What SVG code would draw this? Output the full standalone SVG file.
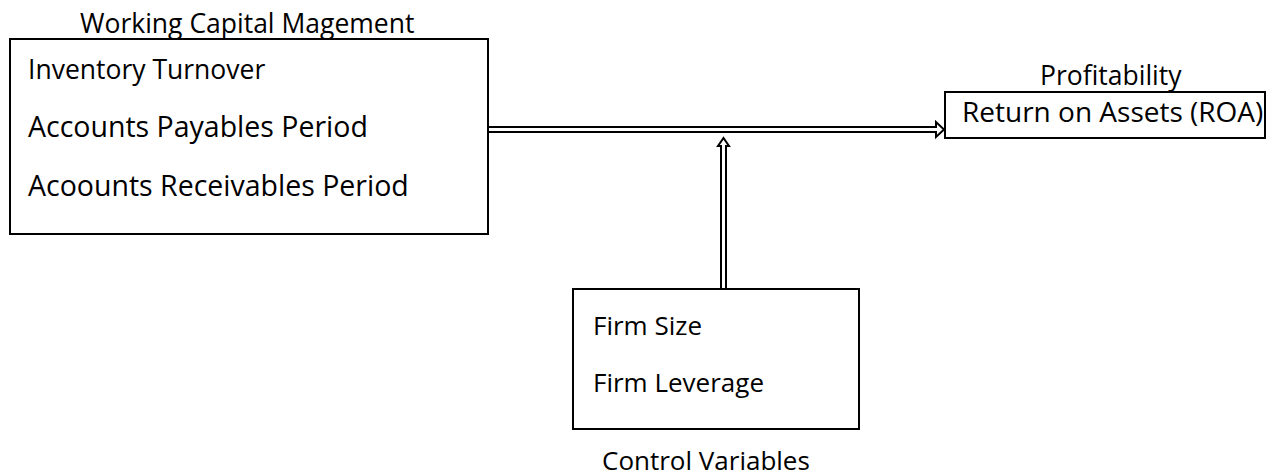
<svg xmlns="http://www.w3.org/2000/svg" width="1277" height="476" viewBox="0 0 1277 476">
  <style>
    .box { fill: #ffffff; stroke: #000000; stroke-width: 2; }
    .arrow { fill: #ffffff; stroke: #000000; stroke-width: 2; stroke-linejoin: miter; }
    text { font-family: "Open Sans", "Liberation Sans", sans-serif; fill: #000000; }
    .t26 { font-size: 26px; }
    .t265 { font-size: 26.5px; }
    .t28 { font-size: 28px; }
    .t285 { font-size: 28.5px; }
  </style>
  <rect width="1277" height="476" fill="#ffffff"/>

  <!-- connectors: hollow double-line arrows -->
  <g id="connectors">
    <path class="arrow" d="M 488,127 H 936 V 122 L 944,129.5 L 936,137 V 132 H 488 Z"/>
    <path class="arrow" d="M 721,289 V 146 H 718 L 723.5,138 L 729,146 H 726 V 289 Z"/>
  </g>

  <g id="working-capital">
    <text class="t265" x="80" y="33">Working Capital Magement</text>
    <rect class="box" x="10" y="39" width="478" height="195"/>
    <text class="t265" x="28" y="79">Inventory Turnover</text>
    <text class="t285" x="28" y="137">Accounts Payables Period</text>
    <text class="t285" x="28" y="196">Acoounts Receivables Period</text>
  </g>

  <g id="profitability">
    <text class="t265" x="1040" y="85">Profitability</text>
    <rect class="box" x="945" y="92" width="320" height="46"/>
    <text class="t28" x="962" y="122">Return on Assets (ROA)</text>
  </g>

  <g id="control-variables">
    <rect class="box" x="573" y="289" width="286" height="140"/>
    <text class="t26" x="593" y="335">Firm Size</text>
    <text class="t26" x="593" y="392">Firm Leverage</text>
    <text class="t26" x="602" y="470">Control Variables</text>
  </g>
</svg>
